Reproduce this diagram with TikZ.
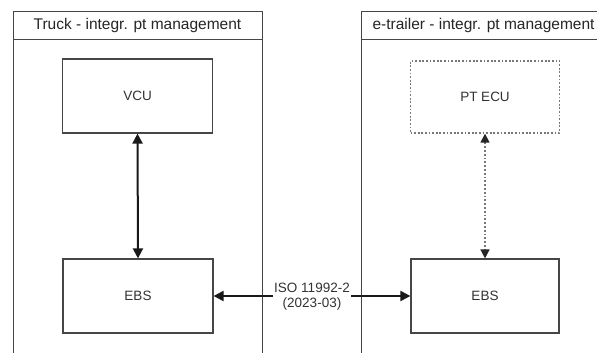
\documentclass[tikz,border=0pt]{standalone}
\usepackage{fontspec}
\setmainfont{Liberation Sans}
\usetikzlibrary{arrows.meta}
\definecolor{edgegray}{RGB}{70,70,70}
\definecolor{dotgray}{RGB}{120,120,120}
\tikzset{
  pool/.style={draw=edgegray, line width=0.9pt, anchor=north west, inner sep=0pt},
  hdr/.style={font=\fontsize{15.5}{17}\selectfont, text=black!85, anchor=center},
  block/.style={draw=edgegray, line width=1.2pt, minimum width=150pt, minimum height=74pt, inner sep=0pt, font=\fontsize{13.5}{15}\selectfont, text=black!80},
  dotblock/.style={block, draw=dotgray, dash pattern=on 1.8pt off 1.8pt, line width=1.4pt},
  conn/.style={line width=2pt, black!90, {Triangle[length=10pt,width=10pt]}-{Triangle[length=10pt,width=10pt]}},
  dotconn/.style={line width=1.6pt, dotgray, dash pattern=on 1.8pt off 2pt, {Triangle[length=9pt,width=9pt,color=black!85]}-{Triangle[length=9pt,width=9pt,color=black!85]}},
  lbl/.style={fill=white, font=\fontsize{13.5}{15}\selectfont, text=black!80, align=center, inner sep=1pt}
}
\begin{document}
\begin{tikzpicture}[x=1pt,y=-1pt]
\useasboundingbox (0,0) rectangle (597,353);
\fill[white] (0,0) rectangle (597,353);
\clip (0,0) rectangle (597,353);
% pools
\node[pool, minimum width=249pt, minimum height=370pt] (lpool) at (13,11) {};
\node[pool, minimum width=260pt, minimum height=370pt] (rpool) at (361,11) {};
\draw[edgegray, line width=0.9pt] (13,39) -- (262,39);
\draw[edgegray, line width=0.9pt] (361,39) -- (621,39);
\node[hdr] (lhdr) at (137.5,25) {Truck - integr. pt management};
\node[hdr, anchor=west] (rhdr) at (369,25) {e-trailer - integr. pt management};
% blocks
\node[block] (vcu) at (137.5,96) {VCU};
\node[block] (ebsl) at (138,296) {EBS};
\node[dotblock, minimum width=149pt, minimum height=72pt] (ptecu) at (485,97) {PT ECU};
\node[block, minimum width=148pt] (ebsr) at (485,296) {EBS};
% connectors
\draw[conn] (vcu.south) -- (ebsl.north);
\draw[dotconn] (ptecu.south) -- (ebsr.north);
\draw[conn] (ebsl.east) -- (ebsr.west);
\node[lbl] (iso) at (312,297) {ISO 11992-2\\(2023-03)};
\end{tikzpicture}
\end{document}
